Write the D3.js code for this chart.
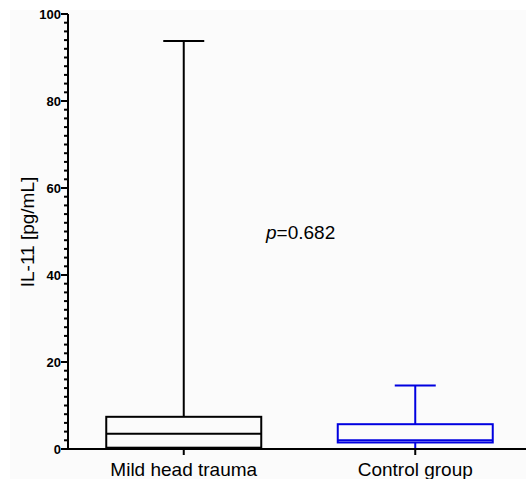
<!DOCTYPE html>
<html>
<head>
<meta charset="utf-8">
<script src="https://cdn.jsdelivr.net/npm/d3@7"></script>
<style>
  body { margin: 0; background: #fff; }
  svg { display: block; }
  text { font-family: Arial, "Liberation Sans", sans-serif; }
</style>
</head>
<body>
<svg width="526" height="479"></svg>
<script>
const groups = ['Mild head trauma', 'Control group'];
const colors = ['#000000', '#0000e0'];
// min, q1, median, q3, max
const mins = [0, 0];
const q1s = [0.3, 1.5];
const medians = [3.5, 2.0];
const q3s = [7.4, 5.7];
const maxs = [93.8, 14.6];
const pText = '=0.682';

const svg = d3.select('svg');
const width = 526, height = 479;
const axisX = 68;

svg.append('rect').attr('x', 10).attr('y', 10).attr('width', width - 10).attr('height', height - 10)
  .attr('fill', '#fbfbfb');

const y = d3.scaleLinear().domain([0, 100]).range([449, 14]);
const x = d3.scalePoint().domain(groups).range([axisX, 531]).padding(0.5);

// y axis
const yAxis = svg.append('g').attr('transform', `translate(${axisX},0)`);
yAxis.append('line').attr('x1', 0).attr('x2', 0).attr('y1', y(100)).attr('y2', y(0))
  .attr('stroke', '#000').attr('stroke-width', 2);
yAxis.selectAll('.minor').data(d3.range(0, 101, 2)).enter().append('line')
  .attr('x1', -4).attr('x2', 0).attr('y1', d => y(d)).attr('y2', d => y(d))
  .attr('stroke', '#000').attr('stroke-width', 2);
yAxis.selectAll('.major').data(d3.range(0, 101, 20)).enter().append('line')
  .attr('x1', -7).attr('x2', 0).attr('y1', d => y(d)).attr('y2', d => y(d))
  .attr('stroke', '#000').attr('stroke-width', 2);
yAxis.selectAll('.lbl').data(d3.range(0, 101, 20)).enter().append('text')
  .attr('x', -7).attr('y', d => y(d)).attr('dy', '0.36em')
  .attr('text-anchor', 'end').attr('font-size', 13).attr('font-weight', 'bold')
  .text(d => d);

svg.append('text')
  .attr('transform', `translate(34,232) rotate(-90)`)
  .attr('text-anchor', 'middle').attr('font-size', 19)
  .text('IL-11 [pg/mL]');

// boxes
const boxW = 155;
const capW = 41;
groups.forEach((g, i) => {
  const cx = x(g);
  const c = colors[i];
  const gg = svg.append('g').attr('stroke', c).attr('stroke-width', 2).attr('fill', 'none');
  gg.append('line').attr('x1', cx).attr('x2', cx).attr('y1', y(q3s[i])).attr('y2', y(maxs[i]));
  gg.append('line').attr('x1', cx - capW / 2).attr('x2', cx + capW / 2).attr('y1', y(maxs[i])).attr('y2', y(maxs[i]));
  gg.append('line').attr('x1', cx).attr('x2', cx).attr('y1', y(q1s[i])).attr('y2', y(mins[i]));
  gg.append('line').attr('x1', cx - capW / 2).attr('x2', cx + capW / 2).attr('y1', y(mins[i])).attr('y2', y(mins[i]));
  gg.append('rect').attr('x', cx - boxW / 2).attr('width', boxW)
    .attr('y', y(q3s[i])).attr('height', y(q1s[i]) - y(q3s[i]));
  gg.append('line').attr('x1', cx - boxW / 2).attr('x2', cx + boxW / 2)
    .attr('y1', y(medians[i])).attr('y2', y(medians[i]));
});

// x axis
svg.append('line').attr('x1', axisX).attr('x2', width).attr('y1', y(0)).attr('y2', y(0))
  .attr('stroke', '#000').attr('stroke-width', 2);
groups.forEach(g => {
  svg.append('line').attr('x1', x(g)).attr('x2', x(g)).attr('y1', y(0)).attr('y2', y(0) + 6)
    .attr('stroke', '#000').attr('stroke-width', 2);
  svg.append('text').attr('x', x(g)).attr('y', 476).attr('text-anchor', 'middle')
    .attr('font-size', 19).text(g);
});

const pt = svg.append('text').attr('x', 266).attr('y', 239).attr('font-size', 19);
pt.append('tspan').attr('font-style', 'italic').text('p');
pt.append('tspan').text(pText);
</script>
</body>
</html>
